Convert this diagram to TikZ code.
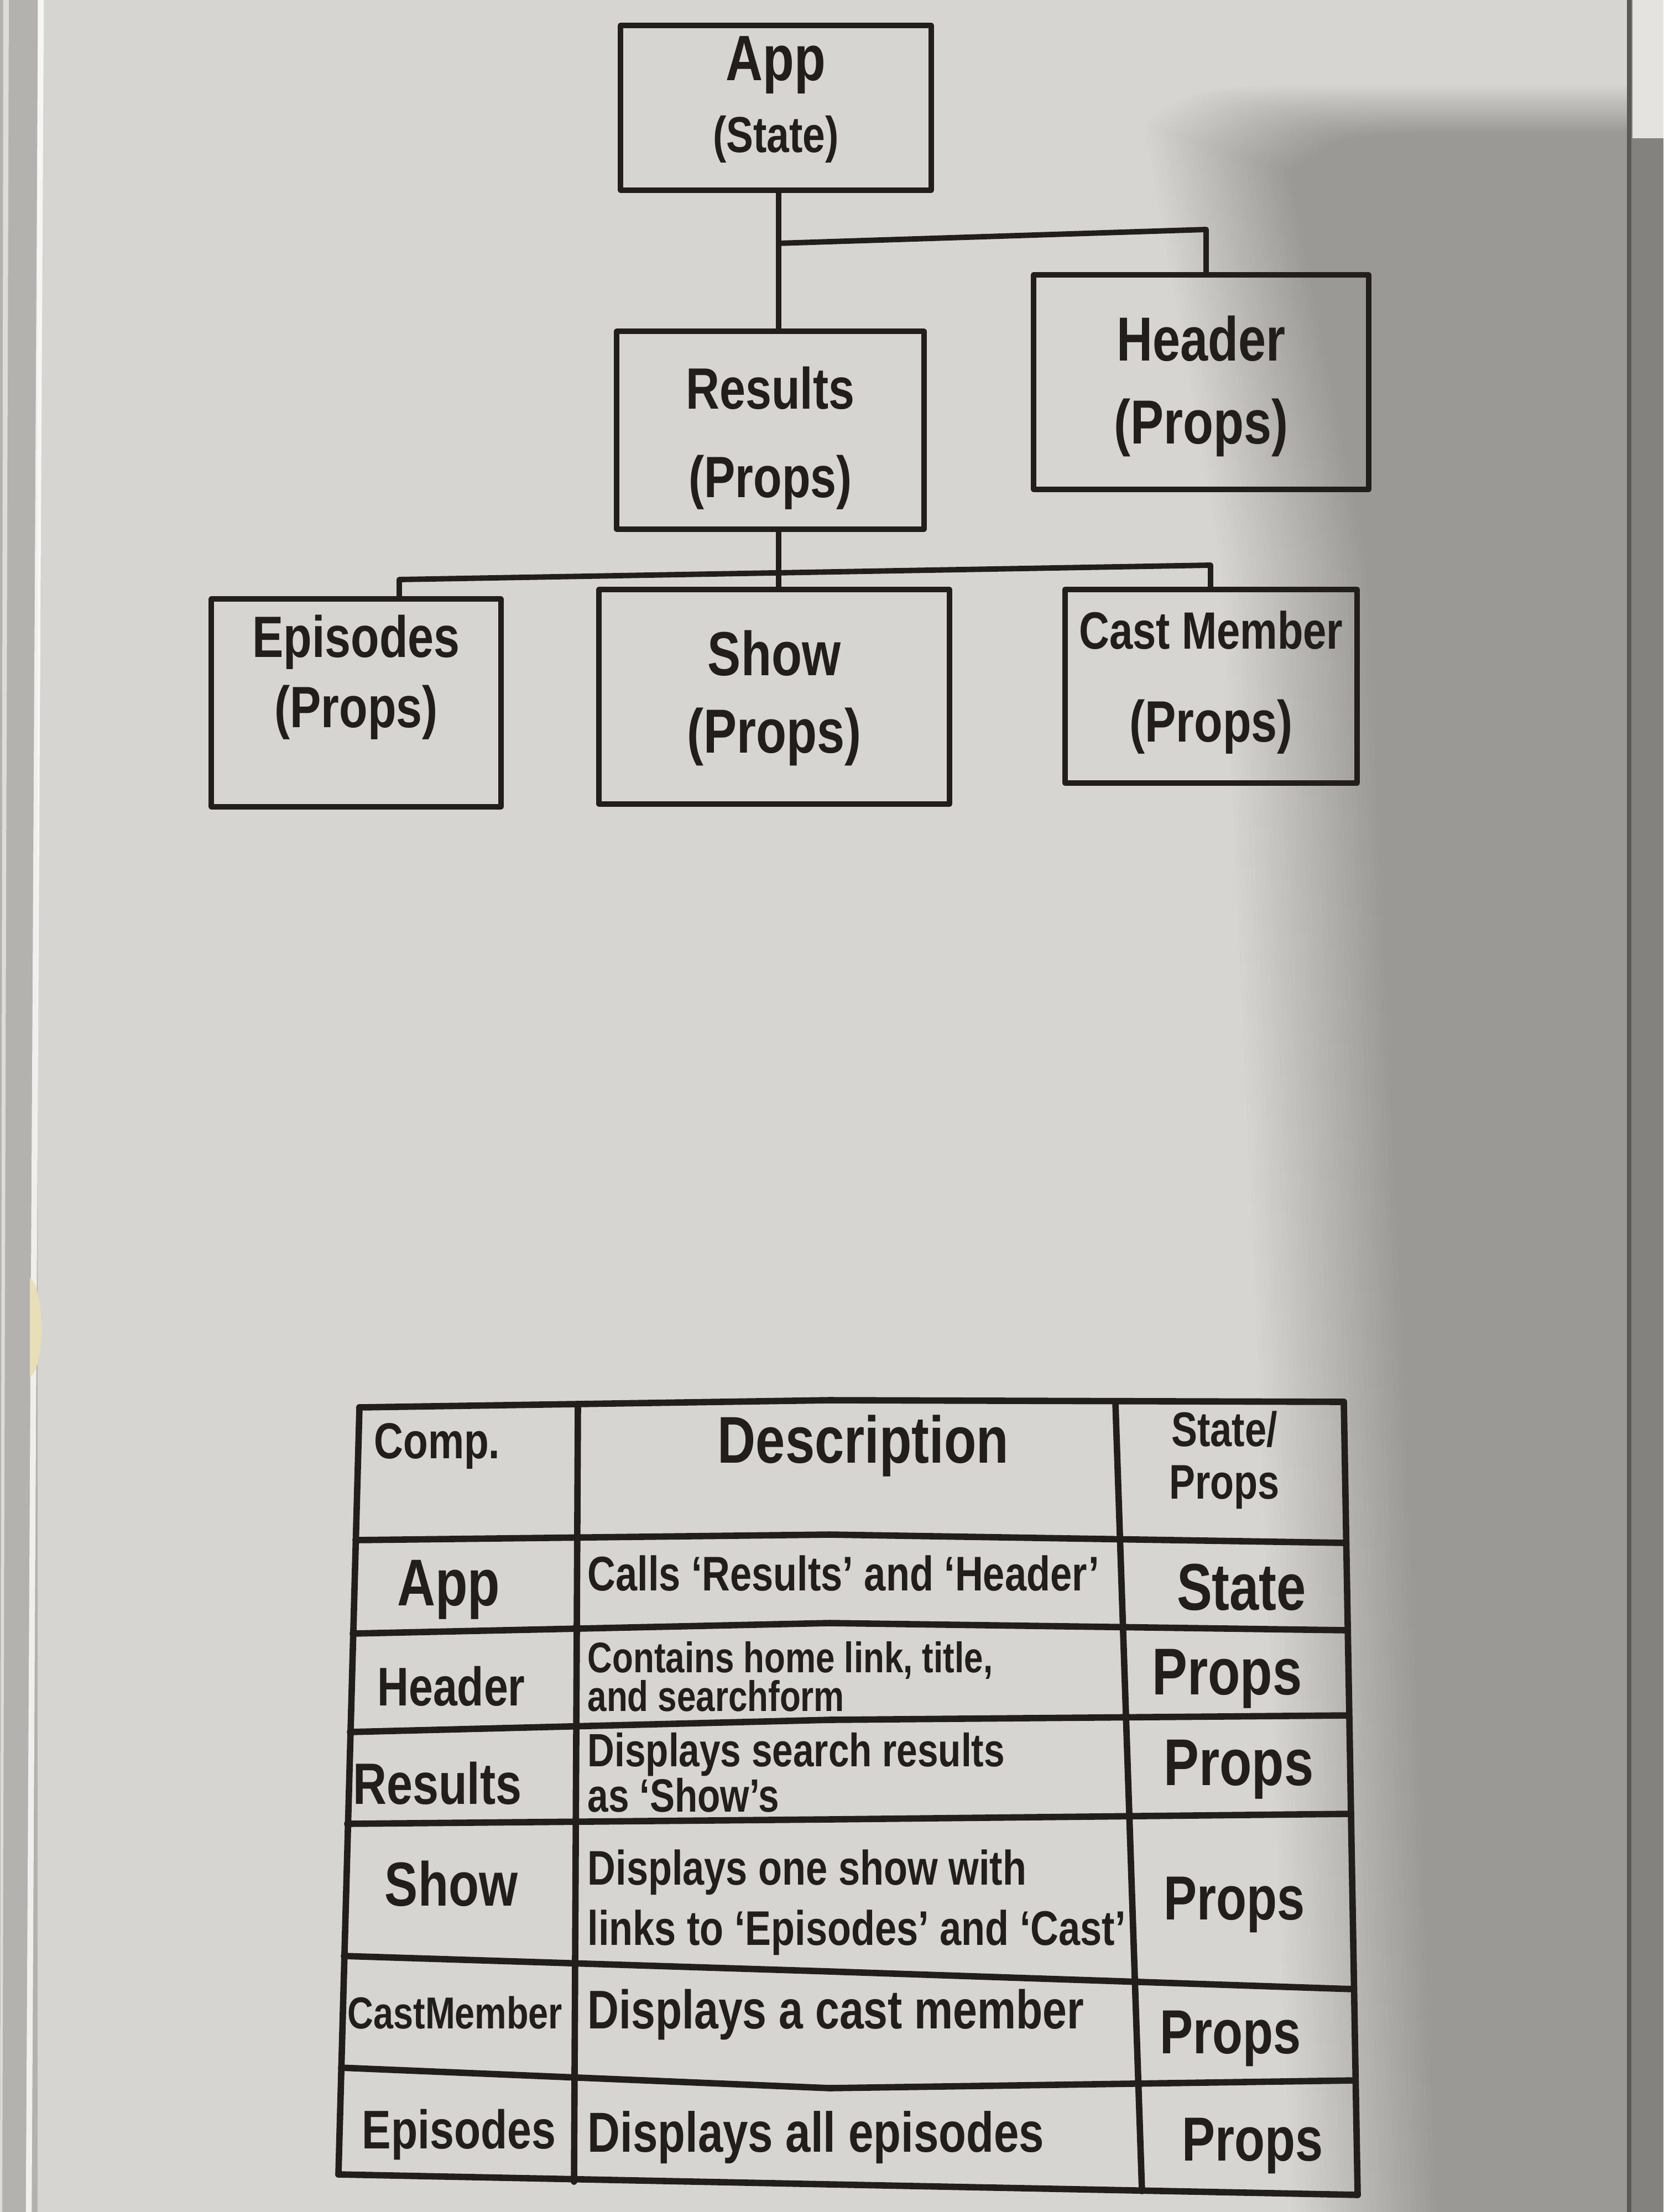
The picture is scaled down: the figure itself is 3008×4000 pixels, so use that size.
\documentclass[tikz,border=0pt]{standalone}
\usepackage{fontspec}
\setmainfont{Liberation Sans}[FakeStretch=0.8]
\usetikzlibrary{calc}

\definecolor{board}{RGB}{214,213,209}
\definecolor{boardlight}{RGB}{228,227,223}
\definecolor{ink}{RGB}{34,30,28}
\definecolor{framecol}{RGB}{180,178,174}
\definecolor{framedark}{RGB}{132,130,126}
\definecolor{tapecol}{RGB}{232,222,184}

% marker lettering at a given size and line distance
\newcommand{\hand}[2]{\fontsize{#1}{#2}\selectfont\bfseries}

\tikzset{
  marker/.style={draw=ink, line width=2.8pt, line join=round, line cap=round},
  compbox/.style={marker, rectangle, inner sep=0pt},
  wire/.style={marker},
  gridline/.style={marker, line width=3.3pt},
  handtext/.style={text=ink, inner sep=0pt, font=\hand{30}{34}},
  celltext/.style={text=ink, inner sep=0pt, align=left},
}

\begin{document}
\begin{tikzpicture}[x=0.01cm, y=-0.01cm]
\useasboundingbox (0,0) rectangle (3008,4000);

% ---------- whiteboard surface ----------
\fill[board] (0,0) rectangle (3008,4000);

% soft shadow on the right part of the board
\begin{scope}
  \clip (0,0) rectangle (2950,4000);
  \foreach \k in {0,...,29}{
    \fill[black, opacity=0.0075]
      ($(2330,310)+(-\k*9,-\k*3)$) .. controls ($(2420,245)+(-\k*9,-\k*3)$) .. ($(2600,240)+(-\k*9,-\k*3)$)
      -- (3008,{240-\k*3}) -- (3008,4100)
      -- ($(2600,4100)+(-\k*9,0)$)
      -- ($(2540,2550)+(-\k*9,0)$)
      -- ($(2470,1020)+(-\k*9,0)$) -- cycle;
  }
\end{scope}

% ---------- board frame ----------
\fill[framecol] (0,0) rectangle (68,4000);
\fill[white, opacity=0.55] (6,0) -- (16,0) -- (4,4000) -- (0,4000) -- cycle;
\draw[white, opacity=0.8, line width=3pt] (74,0) -- (52,4000);
\fill[tapecol] (54,2310) .. controls (80,2330) and (84,2470) .. (54,2490) -- cycle;

\fill[framedark] (2950,0) rectangle (3008,4000);
\fill[boardlight] (2952,0) rectangle (3008,250);
\draw[black!65, line width=2.5pt] (2946,0) -- (2946,4000);

% ---------- component tree ----------
\node[compbox, minimum width=5.61cm, minimum height=2.98cm] (app)      at (1403,195)  {};
\node[compbox, minimum width=5.56cm, minimum height=3.57cm] (results)  at (1393,778)  {};
\node[compbox, minimum width=6.05cm, minimum height=3.88cm] (header)   at (2172,691)  {};
\node[compbox, minimum width=5.23cm, minimum height=3.75cm] (episodes) at (644,1271)  {};
\node[compbox, minimum width=6.33cm, minimum height=3.88cm] (show)     at (1400,1260) {};
\node[compbox, minimum width=5.28cm, minimum height=3.50cm] (cast)     at (2190,1241) {};

\node[handtext, font=\hand{33}{38}] (appA) at (1403,118) {App};
\node[handtext, font=\hand{26}{30}] (appB) at (1403,252) {(State)};
\node[handtext] (resultsA)  at (1393,702)  {Results};
\node[handtext] (resultsB)  at (1393,872)  {(Props)};
\node[handtext, font=\hand{32}{36}] (headerA) at (2172,612) {Header};
\node[handtext, font=\hand{32}{36}] (headerB) at (2172,773) {(Props)};
\node[handtext] (episodesA) at (644,1161)  {Episodes};
\node[handtext] (episodesB) at (644,1288)  {(Props)};
\node[handtext, font=\hand{32}{36}] (showA) at (1400,1181) {Show};
\node[handtext, font=\hand{32}{36}] (showB) at (1400,1332) {(Props)};
\node[handtext, font=\hand{27}{30}] (castA) at (2190,1140) {Cast Member};
\node[handtext] (castB)     at (2190,1314) {(Props)};

% connectors
\coordinate (appfork)     at (1408,440);
\coordinate (headerelbow) at (2181,415);
\coordinate (resfork)     at (1408,1035);
\coordinate (busL)        at (722,1048);
\coordinate (busR)        at (2189,1022);

\draw[wire] (app.south -| appfork) -- (results.north -| appfork);
\draw[wire] (appfork) -- (headerelbow) -- (header.north -| headerelbow);
\draw[wire] (results.south -| resfork) -- (show.north -| resfork);
\draw[wire] (episodes.north -| busL) -- (busL) -- (busR) -- (cast.north -| busR);

% ---------- summary table ----------
% outer frame and column rules
\draw[gridline] (650,2545) -- (612,3932);
\draw[gridline] (2430,2535) -- (2455,3969);
\draw[gridline] (1045,2542) -- (1038,3945);
\draw[gridline] (2017,2537) -- (2065,3962);
% row rules
\draw[gridline] (650,2545) -- (1500,2532) -- (2430,2535);
\draw[gridline] (643,2785) -- (1500,2775) -- (2432,2790);
\draw[gridline] (638,2954) -- (1500,2935) -- (2435,2948);
\draw[gridline] (633,3132) -- (1500,3110) -- (2438,3102);
\draw[gridline] (628,3298) -- (1500,3290) -- (2441,3280);
\draw[gridline] (622,3537) -- (1500,3565) -- (2447,3597);
\draw[gridline] (617,3739) -- (1500,3776) -- (2451,3762);
\draw[gridline] (612,3932) -- (1500,3950) -- (2455,3969);

% heading row
\node[celltext, anchor=west, font=\hand{26}{30}] (hComp) at (676,2615) {Comp.};
\node[celltext, font=\hand{34}{38}] (hDesc) at (1561,2615) {Description};
\node[celltext, align=center, font=\hand{25}{27}] (hKind) at (2214,2640) {State/\\Props};

% rows
\node[celltext, font=\hand{34}{38}] (cApp) at (811,2875) {App};
\node[celltext, anchor=west, font=\hand{25}{28}] (dApp) at (1062,2845) {Calls `Results' and `Header'};
\node[celltext, font=\hand{34}{38}] (kApp) at (2245,2870) {State};

\node[celltext, font=\hand{28}{32}] (cHeader) at (816,3049) {Header};
\node[celltext, anchor=west, font=\hand{22}{20}] (dHeader) at (1062,3032) {Contains home link, title,\\and searchform};
\node[celltext, font=\hand{34}{38}] (kHeader) at (2219,3036) {Props};

\node[celltext, font=\hand{30}{34}] (cResults) at (791,3225) {Results};
\node[celltext, anchor=west, font=\hand{24}{22}] (dResults) at (1062,3205) {Displays search results\\as `Show's};
\node[celltext, font=\hand{34}{38}] (kResults) at (2240,3200) {Props};

\node[celltext, font=\hand{32}{36}] (cShow) at (816,3406) {Show};
\node[celltext, anchor=west, font=\hand{25}{31}] (dShow) at (1062,3440) {Displays one show with\\links to `Episodes' and `Cast'};
\node[celltext, font=\hand{32}{36}] (kShow) at (2232,3444) {Props};

\node[celltext, font=\hand{23}{26}] (cCast) at (823,3640) {CastMember};
\node[celltext, anchor=west, font=\hand{28}{32}] (dCast) at (1062,3643) {Displays a cast member};
\node[celltext, font=\hand{32}{36}] (kCast) at (2225,3686) {Props};

\node[celltext, font=\hand{28}{32}] (cEpisodes) at (830,3860) {Episodes};
\node[celltext, anchor=west, font=\hand{29}{32}] (dEpisodes) at (1062,3865) {Displays all episodes};
\node[celltext, font=\hand{32}{36}] (kEpisodes) at (2265,3880) {Props};

\end{tikzpicture}
\end{document}
